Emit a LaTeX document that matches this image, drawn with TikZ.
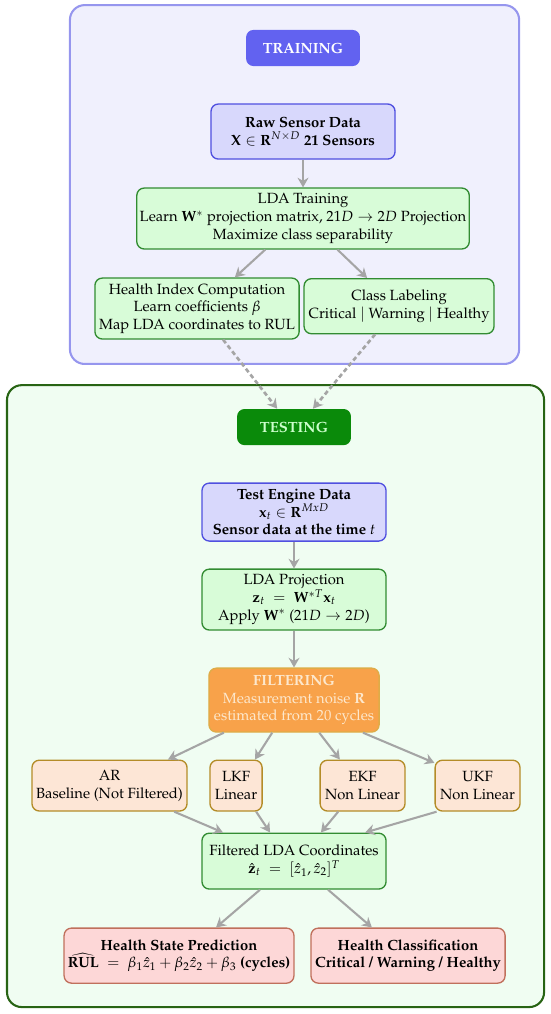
\documentclass[tikz,border=0pt]{standalone}
\usepackage{amsmath}
\usepackage[T1]{fontenc}
\usepackage{mathpazo}
\usepackage{tikz}
\usepackage{xcolor}
\usetikzlibrary{
    arrows.meta,
    positioning,
    calc
}
\definecolor{TrainFill}{RGB}{240,240,253}
\definecolor{TrainLine}{RGB}{150,150,238}
\definecolor{TrainHead}{RGB}{98,98,240}
\definecolor{TestFill}{RGB}{240,253,242}
\definecolor{TestLine}{RGB}{40,100,20}
\definecolor{TestHead}{RGB}{10,138,10}
\definecolor{TestText}{RGB}{205,255,205}
\definecolor{SoftBlue}{RGB}{216,216,252}
\definecolor{EdgeBlue}{RGB}{80,80,224}
\definecolor{SoftGreen}{RGB}{216,252,216}
\definecolor{EdgeGreen}{RGB}{50,140,50}
\definecolor{FiltFill}{RGB}{248,162,74}
\definecolor{FiltLine}{RGB}{222,172,72}
\definecolor{FiltText}{RGB}{253,232,205}
\definecolor{SoftPeach}{RGB}{253,230,214}
\definecolor{EdgeGold}{RGB}{180,140,40}
\definecolor{SoftRed}{RGB}{253,215,215}
\definecolor{EdgeRed}{RGB}{192,112,92}
\definecolor{ArrGray}{RGB}{165,165,165}
\tikzset{
  phase/.style   = {draw, rounded corners=10pt, line width=1.4pt},
  head/.style    = {rounded corners=5pt, minimum width=2.71cm,
                    minimum height=0.86cm, font=\bfseries},
  block/.style   = {draw, rounded corners=5pt, line width=0.9pt,
                    align=center, inner xsep=2pt, inner ysep=3pt},
  bblock/.style  = {block, fill=SoftBlue, draw=EdgeBlue, font=\bfseries},
  gblock/.style  = {block, fill=SoftGreen, draw=EdgeGreen},
  oblock/.style  = {block, fill=SoftPeach, draw=EdgeGold},
  rblock/.style  = {block, fill=SoftRed, draw=EdgeRed, font=\bfseries},
  arr/.style     = {-{Stealth[length=2.3mm,width=2.6mm]}, line width=1.4pt, ArrGray},
  arrd/.style    = {-{Stealth[length=2.3mm,width=2.6mm]}, line width=1.8pt, ArrGray,
                    densely dashed}
}

\begin{document}
\begin{tikzpicture}
\useasboundingbox (0,0) rectangle (13.09,-24.13);

% Training
\node[phase, fill=TrainFill, draw=TrainLine, minimum width=10.69cm, minimum height=8.54cm] (trainbg) at (7.009,-4.391) {};
\node[head, fill=TrainHead, text=white] (train) at (7.211,-1.142) {TRAINING};
\node[bblock, minimum width=4.38cm, minimum height=1.31cm] (raw) at (7.211,-3.130)
  {Raw Sensor Data\\ $\mathbf{X} \in \mathbf{R}^{N\times D}$ 21 Sensors};
\node[gblock, minimum width=7.90cm, minimum height=1.45cm] (ldatrain) at (7.211,-5.200)
  {LDA Training\\ Learn $\mathbf{W}^{*}$ projection matrix, $21D \rightarrow 2D$ Projection\\ Maximize class separability};
\node[gblock, minimum width=4.86cm, minimum height=1.45cm] (hic) at (4.689,-7.342)
  {Health Index Computation\\ Learn coefficients $\beta$\\ Map LDA coordinates to RUL};
\node[gblock, minimum width=4.52cm, minimum height=1.31cm, anchor=north] (classlab) at (9.496,-6.616)
  {Class Labeling\\ Critical $|$ Warning $|$ Healthy};
\draw[arr] (raw) -- (ldatrain);
\draw[arr] ([xshift=-0.90cm]ldatrain.south) -- ([xshift=0.90cm]hic.north);
\draw[arr] ([xshift=0.82cm]ldatrain.south) -- ([xshift=-0.76cm]classlab.north);

% Testing
\node[phase, fill=TestFill, draw=TestLine, minimum width=12.78cm, minimum height=14.80cm] (testbg) at (6.557,-16.565) {};
\node[head, fill=TestHead, text=TestText] (test) at (6.997,-10.163) {TESTING};
\draw[arrd] ([xshift=0.62cm]hic.south) -- ([xshift=-0.40cm]test.north);
\draw[arrd] ([xshift=-0.57cm]classlab.south) -- ([xshift=0.45cm]test.north);

\node[bblock, minimum width=4.38cm, minimum height=1.38cm] (testdata) at (6.997,-12.186)
  {Test Engine Data\\ $\mathbf{x}_t \in \mathbf{R}^{MxD}$\\ Sensor data at the time $t$};
\node[gblock, minimum width=4.38cm, minimum height=1.45cm] (ldaproj) at (6.997,-14.268)
  {LDA Projection\\ $\mathbf{z}_t \;=\; \mathbf{W}^{*T}\mathbf{x}_t$\\ Apply $\mathbf{W}^{*}$ ($21D \rightarrow 2D$)};
\node[block, fill=FiltFill, draw=FiltLine, text=FiltText, minimum width=4.05cm, minimum height=1.52cm] (filt) at (6.997,-16.660)
  {\textbf{FILTERING}\\ Measurement noise $\mathbf{R}$\\ estimated from 20 cycles};
\draw[arr] (testdata) -- (ldaproj);
\draw[arr] (ldaproj) -- (filt);

% Filters
\node[oblock, minimum width=3.69cm, minimum height=1.21cm] (ar)  at (2.606,-18.695) {AR\\ Baseline (Not Filtered)};
\node[oblock, minimum width=1.24cm, minimum height=1.21cm] (lkf) at (5.617,-18.695) {LKF\\ Linear};
\node[oblock, minimum width=2.02cm, minimum height=1.21cm] (ekf) at (8.628,-18.695) {EKF\\ Non Linear};
\node[oblock, minimum width=2.02cm, minimum height=1.21cm] (ukf) at (11.365,-18.695) {UKF\\ Non Linear};
\draw[arr] ([xshift=-1.67cm]filt.south) -- ([xshift=1.39cm]ar.north);
\draw[arr] ([xshift=-0.52cm]filt.south) -- ([xshift=0.45cm]lkf.north);
\draw[arr] ([xshift=0.60cm]filt.south) -- ([xshift=-0.54cm]ekf.north);
\draw[arr] ([xshift=1.64cm]filt.south) -- ([yshift=-0.08cm]ukf.north west);

\node[gblock, minimum width=4.38cm, minimum height=1.33cm] (filtlda) at (6.997,-20.492)
  {Filtered LDA Coordinates\\ $\hat{\mathbf{z}}_t \;=\; [\hat{z}_1, \hat{z}_2]^T$};
\draw[arr] ([xshift=1.54cm]ar.south) -- ([xshift=-1.69cm]filtlda.north);
\draw[arr] ([xshift=0.48cm]lkf.south) -- ([xshift=-0.57cm]filtlda.north);
\draw[arr] ([xshift=-0.58cm]ekf.south) -- ([xshift=0.64cm]filtlda.north);
\draw[arr] ([xshift=0.05cm]ukf.south west) -- ([xshift=1.69cm]filtlda.north);

% Outputs
\node[rblock, minimum width=5.47cm, minimum height=1.31cm] (hsp) at (4.260,-22.741)
  {Health State Prediction\\ $\widehat{\text{RUL}} \;=\; \beta_1\hat{z}_1 + \beta_2\hat{z}_2 + \beta_3$ (cycles)};
\node[rblock, minimum width=4.62cm, minimum height=1.31cm] (hcl) at (9.710,-22.741)
  {Health Classification\\ Critical / Warning / Healthy};
\draw[arr] ([xshift=-0.81cm]filtlda.south) -- ([xshift=0.88cm]hsp.north);
\draw[arr] ([xshift=0.81cm]filtlda.south) -- ([xshift=-0.86cm]hcl.north);
\end{tikzpicture}
\end{document}
